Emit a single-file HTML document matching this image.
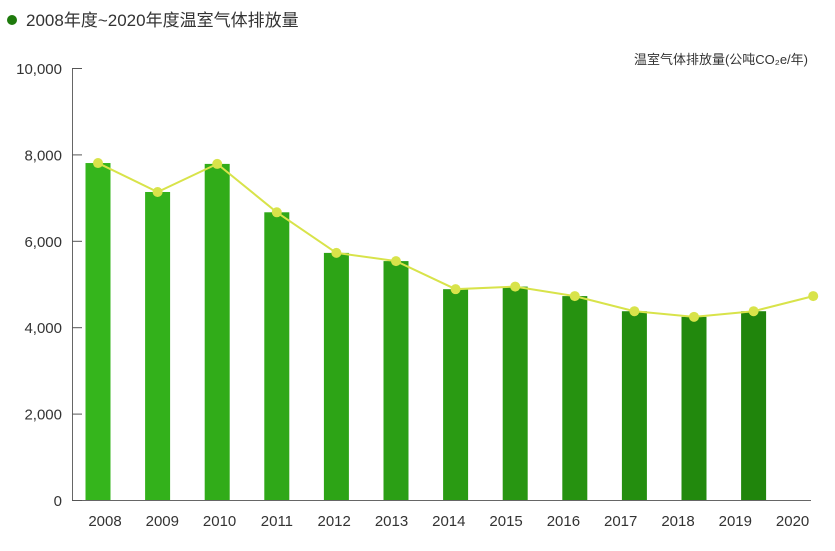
<!DOCTYPE html>
<html><head><meta charset="utf-8"><style>
body{margin:0;background:#fff;width:835px;height:546px;overflow:hidden;font-family:"Liberation Sans","Noto Sans CJK SC",sans-serif}
</style></head><body>
<svg width="835" height="546" xmlns="http://www.w3.org/2000/svg">
<circle cx="12" cy="20" r="5" fill="#1e7a0c"/>
<text x="26" y="26" font-size="17" fill="#333">2008年度~2020年度温室气体排放量</text>
<text x="808" y="64" font-size="13" fill="#333" text-anchor="end">温室气体排放量(公吨CO₂e/年)</text>
<g id="axes"></g><g id="bars"></g><g id="line"></g>
</svg>
<script>
const categories=["2008","2009","2010","2011","2012","2013","2014","2015","2016","2017","2018","2019","2020"];
const barValues=[7800,7130,7780,6660,5720,5530,4880,4940,4720,4370,4240,4370,null];
const lineValues=[7800,7130,7780,6660,5720,5530,4880,4940,4720,4370,4240,4370,4720];
const yTicks=[0,2000,4000,6000,8000,10000];
const yTickLabels=["0","2,000","4,000","6,000","8,000","10,000"];
const NS="http://www.w3.org/2000/svg";
const y=v=>500-v/10000*432;
const xm=i=>98+i*59.6;
const xl=i=>105+i*57.3;
function mk(t,a,p){const e=document.createElementNS(NS,t);for(const k in a)e.setAttribute(k,a[k]);p.appendChild(e);return e;}
const ax=document.getElementById('axes'),bg=document.getElementById('bars'),lg=document.getElementById('line');
const yl=mk('line',{x1:72.5,y1:68,x2:72.5,y2:500,stroke:'#666','stroke-width':1},ax);


const xa=mk('line',{x1:72,y1:500.5,x2:811,y2:500.5,stroke:'#666','stroke-width':1},ax);


yTicks.forEach((v,i)=>{
 const t=mk('line',{x1:72,y1:y(v)+0.5,x2:82,y2:y(v)+0.5,stroke:'#555'},ax);
 
 
 const l=mk('text',{x:62,y:y(v)+6,'font-size':15,fill:'#333','text-anchor':'end'},ax);
 l.textContent=yTickLabels[i];
 
 
});
categories.forEach((c,i)=>{
 const l=mk('text',{x:xl(i),y:526,'font-size':15,fill:'#333','text-anchor':'middle'},ax);
 l.textContent=c;
 
 
});
barValues.forEach((v,i)=>{
 if(v==null)return;
 const f=i/11;
 const r=Math.round(0x35+(0x20-0x35)*f),g=Math.round(0xb5+(0x85-0xb5)*f),b=Math.round(0x1c+(0x0c-0x1c)*f);
 const rc=mk('rect',{x:xm(i)-12.5,y:y(v),width:25,height:500-y(v),fill:`rgb(${r},${g},${b})`},bg);
 
 
});
const pl=mk('polyline',{points:lineValues.map((v,i)=>xm(i)+','+y(v)).join(' '),fill:'none',stroke:'#d8e34a','stroke-width':2},lg);


lineValues.forEach((v,i)=>{
 const c=mk('circle',{cx:xm(i),cy:y(v),r:5,fill:'#d8e34a'},lg);
 
 
});
</script>
</body></html>
